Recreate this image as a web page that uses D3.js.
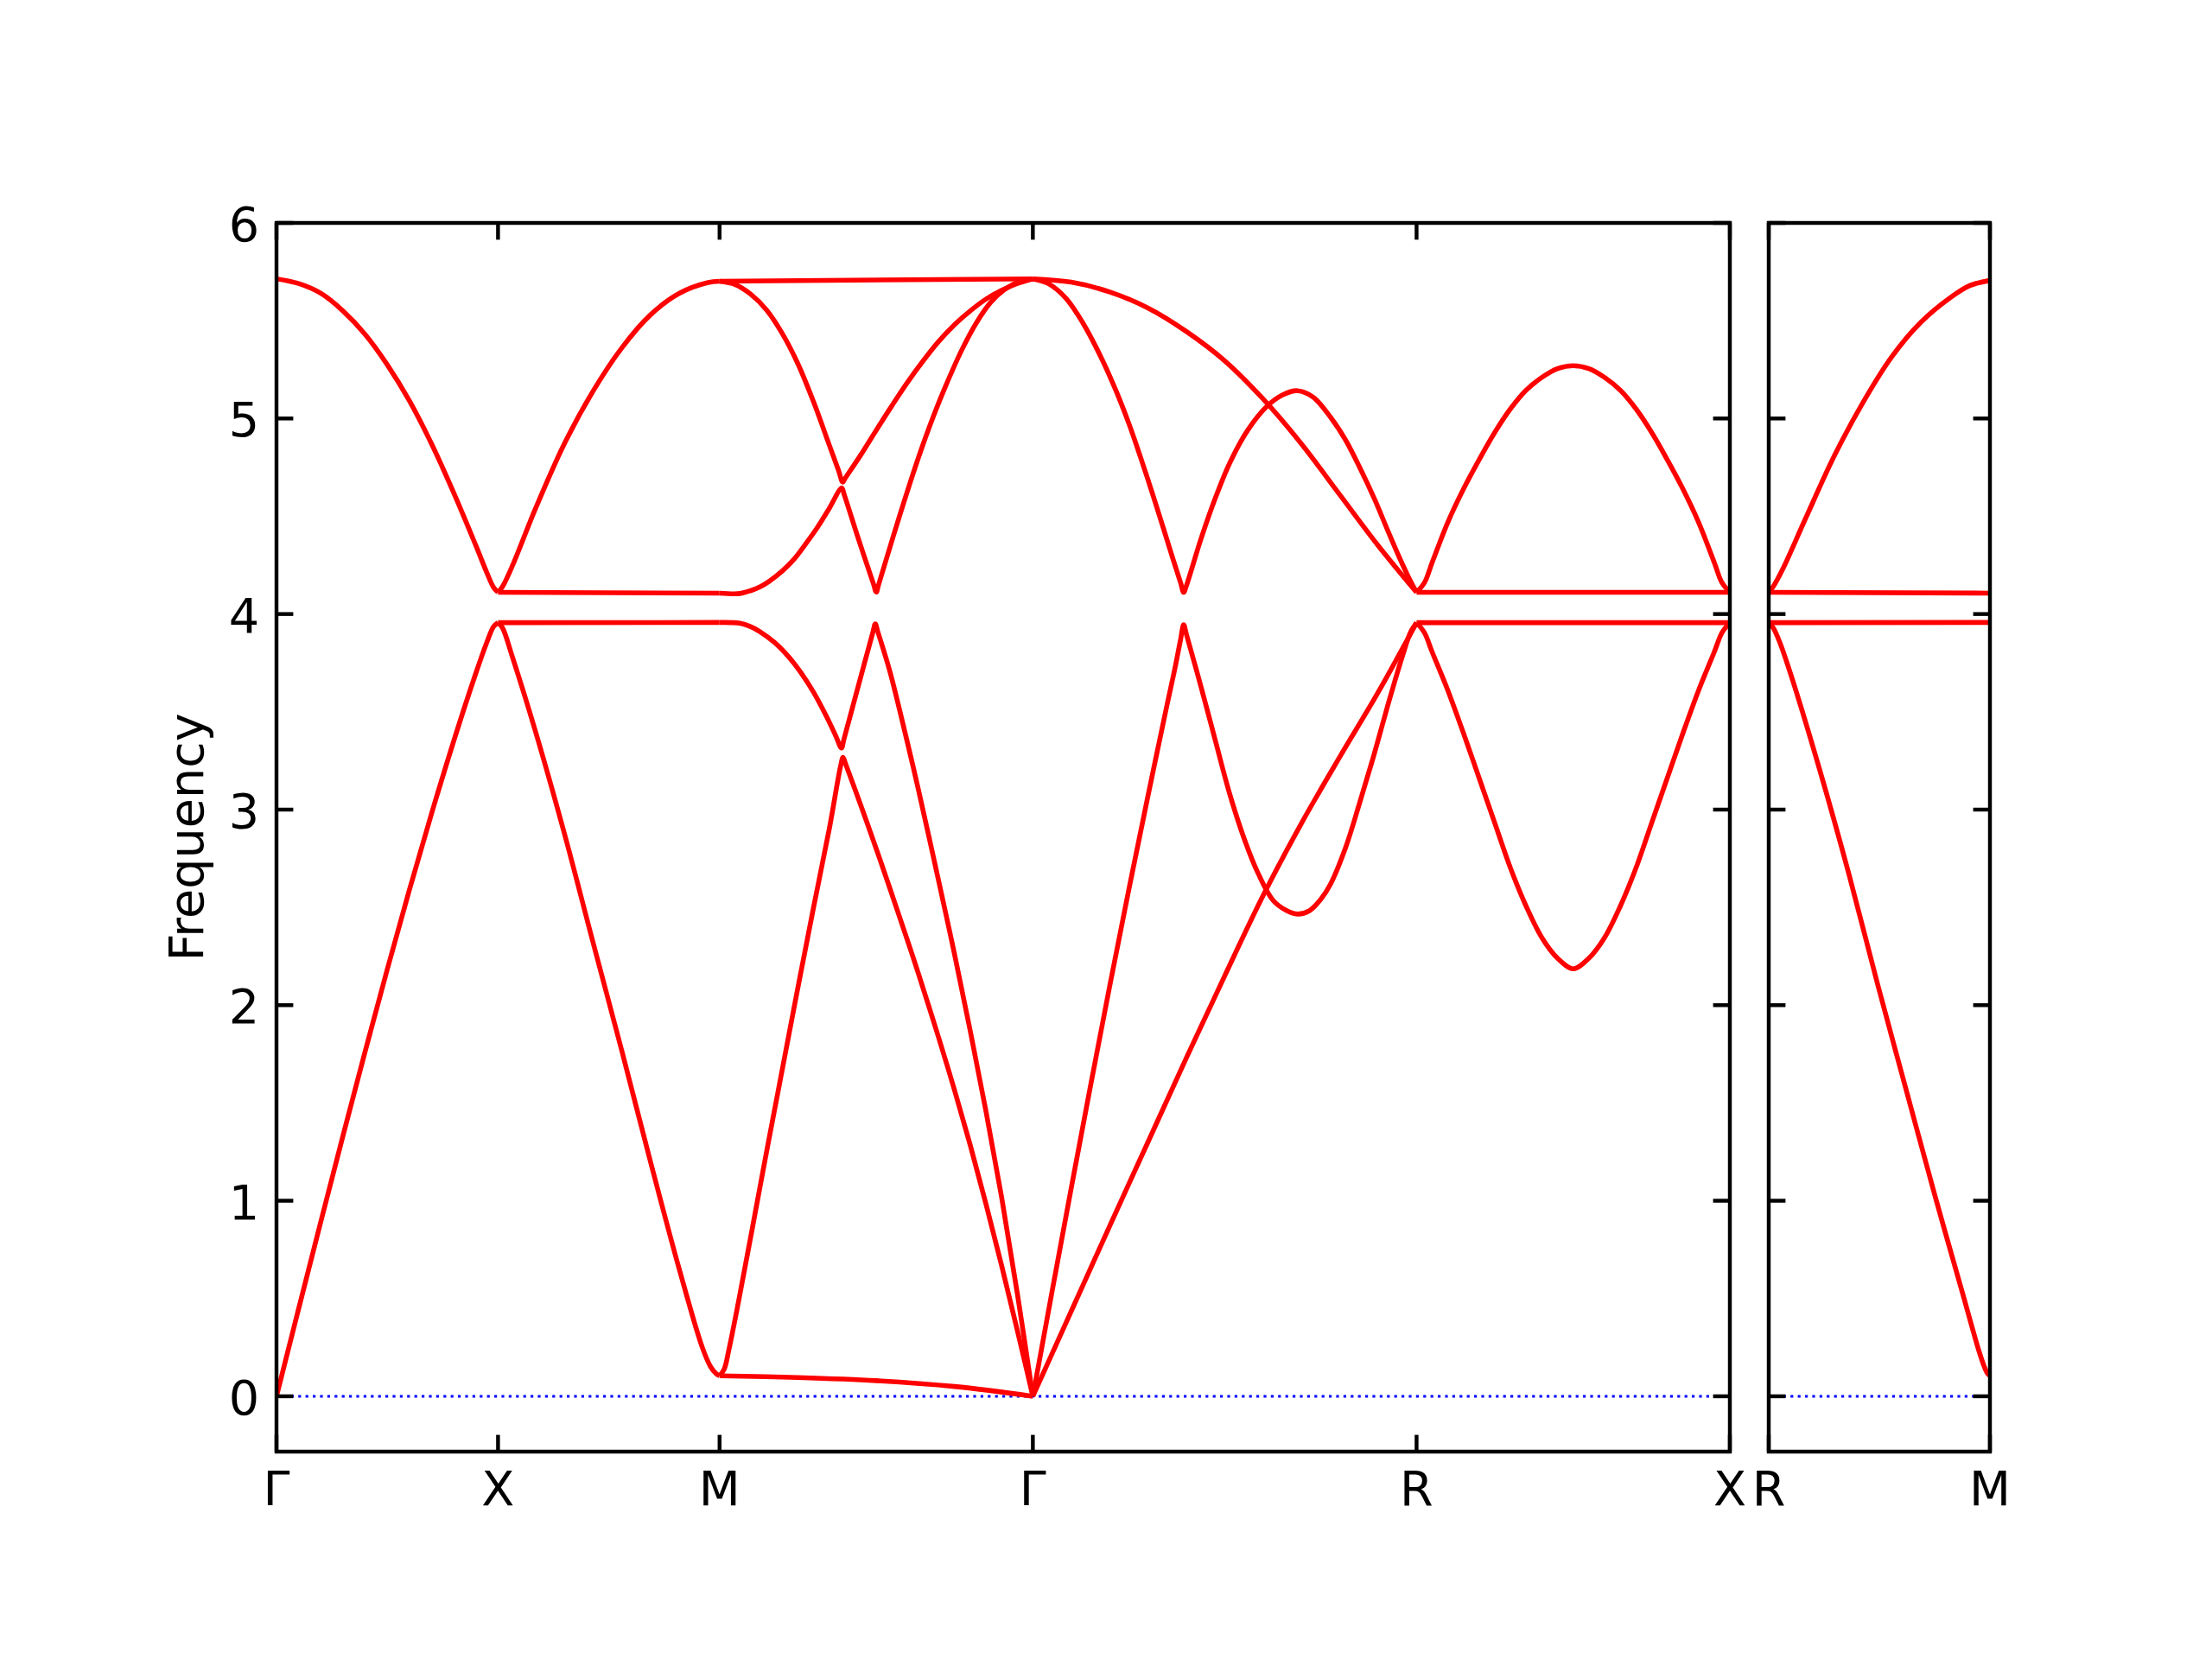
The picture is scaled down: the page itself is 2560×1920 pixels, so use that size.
<!DOCTYPE html>
<html><head><meta charset="utf-8">
<script src="https://cdn.jsdelivr.net/npm/d3@7"></script>
<style>body{margin:0;background:#fff} svg{display:block}</style>
</head><body>
<svg id="chart" width="2560" height="1920"></svg>
<script>
// ---------------- data ----------------
// k-path segment lengths (reciprocal-lattice units) and symmetry labels
const segLengths   = [0.5, 0.5, 0.7071, 0.8660, 0.7071];
const pointLabels  = ["Γ", "X", "M", "Γ", "R", "X"];
const panel2Lengths = [0.5];
const panel2Labels  = ["R", "M"];
const yTicks  = [0, 1, 2, 3, 4, 5, 6];
const yDomain = [-0.283, 6];

// Each band: [fraction along segment, frequency]
// Γ - X
const gxOptical  = [[0,5.714],[0.1,5.69],[0.2,5.64],[0.3,5.55],[0.4,5.43],[0.5,5.275],[0.6,5.09],[0.7,4.87],[0.8,4.62],[0.9,4.35],[0.95,4.21],[0.98,4.136],[1,4.111]];
const gxAcoustic = [[0,0],[0.1,0.448],[0.2,0.893],[0.3,1.332],[0.4,1.763],[0.5,2.183],[0.6,2.59],[0.7,2.98],[0.8,3.351],[0.9,3.698],[0.95,3.857],[0.98,3.936],[1,3.956]];
// X - M
const xmUp     = [[0,4.111],[0.02,4.14],[0.065,4.247],[0.169,4.539],[0.299,4.87],[0.429,5.14],[0.558,5.36],[0.688,5.53],[0.818,5.64],[0.948,5.695],[1,5.702]];
const xmFlatHi = [[0,4.111],[1,4.107]];
const xmFlatLo = [[0,3.956],[1,3.957]];
const xmDown   = [[0,3.956],[0.02,3.93],[0.065,3.78],[0.169,3.40],[0.299,2.88],[0.429,2.32],[0.558,1.77],[0.688,1.20],[0.818,0.65],[0.922,0.25],[0.96,0.15],[0.985,0.115],[1,0.105]];
// M - Γ
const mgTop  = [[0,5.702],[1,5.714]];
const mgU    = [[0,5.702],[0.05,5.685],[0.1,5.635],[0.15,5.555],[0.2,5.435],[0.25,5.28],[0.3,5.085],[0.35,4.865],[0.38,4.733],[0.393,4.675],[0.40,4.692],[0.42,4.74],[0.45,4.812],[0.5,4.94],[0.55,5.065],[0.6,5.185],[0.65,5.295],[0.7,5.395],[0.75,5.48],[0.8,5.55],[0.85,5.61],[0.9,5.655],[0.95,5.69],[1,5.714]];
const mgLam  = [[0,4.107],[0.065,4.105],[0.1,4.12],[0.13,4.14],[0.157,4.166],[0.2,4.22],[0.239,4.283],[0.28,4.37],[0.313,4.445],[0.35,4.54],[0.39,4.644],[0.398,4.61],[0.442,4.39],[0.492,4.15],[0.50,4.112],[0.508,4.152],[0.552,4.385],[0.585,4.555],[0.617,4.715],[0.65,4.87],[0.681,5.005],[0.72,5.16],[0.773,5.35],[0.82,5.49],[0.866,5.595],[0.91,5.66],[0.957,5.70],[1,5.714]];
const mgV    = [[0,3.957],[0.065,3.953],[0.1,3.935],[0.129,3.91],[0.175,3.855],[0.221,3.78],[0.26,3.70],[0.3,3.60],[0.34,3.48],[0.37,3.38],[0.389,3.315],[0.397,3.36],[0.45,3.675],[0.489,3.905],[0.497,3.95],[0.505,3.91],[0.543,3.71],[0.6,3.34],[0.635,3.10],[0.7,2.63],[0.75,2.26],[0.8,1.87],[0.85,1.46],[0.9,1.02],[0.95,0.53],[1,0]];
const mgAc   = [[0,0.105],[0.015,0.14],[0.03,0.24],[0.06,0.48],[0.1,0.82],[0.15,1.25],[0.2,1.67],[0.25,2.09],[0.3,2.50],[0.35,2.90],[0.386,3.22],[0.394,3.267],[0.402,3.235],[0.45,3.025],[0.5,2.80],[0.543,2.60],[0.6,2.33],[0.635,2.16],[0.7,1.83],[0.75,1.565],[0.8,1.285],[0.85,0.985],[0.9,0.67],[0.95,0.34],[1,0]];
const mgLow  = [[0,0.105],[0.25,0.096],[0.5,0.08],[0.75,0.05],[1,0]];
// Γ - R
const grTop  = [[0,5.714],[0.1,5.697],[0.2,5.647],[0.3,5.565],[0.4,5.445],[0.5,5.295],[0.6,5.10],[0.7,4.87],[0.8,4.61],[0.9,4.35],[1,4.111]];
const grHump = [[0,5.714],[0.04,5.69],[0.086,5.615],[0.13,5.49],[0.176,5.32],[0.215,5.15],[0.251,4.97],[0.28,4.805],[0.311,4.62],[0.34,4.44],[0.363,4.295],[0.385,4.16],[0.393,4.111],[0.401,4.15],[0.438,4.383],[0.475,4.59],[0.513,4.772],[0.56,4.94],[0.611,5.064],[0.65,5.12],[0.69,5.142],[0.73,5.11],[0.776,5.006],[0.815,4.89],[0.851,4.753],[0.89,4.59],[0.926,4.422],[0.955,4.29],[0.979,4.189],[1,4.111]];
const grAcV  = [[0,0],[0.05,0.535],[0.1,1.065],[0.15,1.585],[0.2,2.095],[0.25,2.59],[0.3,3.07],[0.348,3.52],[0.37,3.72],[0.385,3.87],[0.393,3.945],[0.401,3.89],[0.438,3.63],[0.476,3.35],[0.513,3.08],[0.551,2.85],[0.588,2.67],[0.626,2.536],[0.66,2.485],[0.69,2.466],[0.72,2.482],[0.75,2.54],[0.776,2.62],[0.814,2.80],[0.851,3.03],[0.889,3.28],[0.926,3.54],[0.964,3.79],[0.985,3.91],[1,3.956]];
const grLin  = [[0,0],[0.1,0.435],[0.2,0.87],[0.3,1.30],[0.4,1.73],[0.5,2.15],[0.6,2.56],[0.7,2.93],[0.8,3.27],[0.9,3.6],[1,3.956]];
// R - X
const rxHump   = [[0,4.111],[0.025,4.16],[0.05,4.265],[0.1,4.47],[0.15,4.64],[0.2,4.79],[0.25,4.93],[0.3,5.05],[0.35,5.145],[0.4,5.21],[0.45,5.255],[0.5,5.27],[0.55,5.255],[0.6,5.21],[0.65,5.145],[0.7,5.05],[0.75,4.93],[0.8,4.79],[0.85,4.64],[0.9,4.47],[0.95,4.265],[0.975,4.16],[1,4.111]];
const rxFlatHi = [[0,4.111],[1,4.111]];
const rxFlatLo = [[0,3.956],[1,3.956]];
const rxDip    = [[0,3.956],[0.025,3.905],[0.05,3.805],[0.1,3.609],[0.15,3.39],[0.2,3.16],[0.25,2.93],[0.3,2.70],[0.35,2.505],[0.4,2.345],[0.45,2.24],[0.5,2.186],[0.55,2.24],[0.6,2.345],[0.65,2.505],[0.7,2.70],[0.75,2.93],[0.8,3.16],[0.85,3.39],[0.9,3.609],[0.95,3.805],[0.975,3.905],[1,3.956]];
// R - M (second panel)
const rmUp     = [[0,4.111],[0.02,4.14],[0.0625,4.228],[0.167,4.49],[0.297,4.81],[0.427,5.084],[0.557,5.317],[0.6875,5.492],[0.818,5.616],[0.91,5.68],[1,5.706]];
const rmFlatHi = [[0,4.111],[1,4.107]];
const rmFlatLo = [[0,3.956],[1,3.957]];
const rmDown   = [[0,3.956],[0.02,3.93],[0.049,3.858],[0.102,3.683],[0.232,3.197],[0.362,2.672],[0.492,2.108],[0.622,1.564],[0.753,1.019],[0.883,0.50],[0.92,0.35],[0.948,0.24],[0.975,0.15],[0.99,0.115],[1,0.105]];

const panel1Bands = [
  [gxOptical, gxAcoustic],
  [xmUp, xmFlatHi, xmFlatLo, xmDown],
  [mgTop, mgU, mgLam, mgV, mgAc, mgLow],
  [grTop, grHump, grAcV, grLin],
  [rxHump, rxFlatHi, rxFlatLo, rxDip]
];
const panel2Bands = [
  [rmUp, rmFlatHi, rmFlatLo, rmDown]
];

// ---------------- layout ----------------
const svg = d3.select("#chart");
const plotTop = 258, plotBottom = 1680;
const AX_W = 4.44, TICK_L = 19.4, FONT = 55.6, LINE_W = 5.6;
const y = d3.scaleLinear().domain(yDomain).range([plotBottom, plotTop]);

const panels = [
  {x0: 320,  x1: 2002, lengths: segLengths,    labels: pointLabels,  bands: panel1Bands, yLabels: true},
  {x0: 2047, x1: 2303, lengths: panel2Lengths, labels: panel2Labels, bands: panel2Bands, yLabels: false}
];

const defs = svg.append("defs");

panels.forEach((p, pi) => {
  const starts = [0];
  p.lengths.forEach(l => starts.push(starts[starts.length - 1] + l));
  const total = starts[starts.length - 1];
  const x = d3.scaleLinear().domain([0, total]).range([p.x0, p.x1]);

  defs.append("clipPath").attr("id", "clip" + pi)
    .append("rect").attr("x", p.x0).attr("y", plotTop)
    .attr("width", p.x1 - p.x0).attr("height", plotBottom - plotTop);

  const g = svg.append("g").attr("clip-path", `url(#clip${pi})`);

  // zero line
  g.append("line")
    .attr("x1", p.x0).attr("x2", p.x1)
    .attr("y1", y(0)).attr("y2", y(0))
    .attr("stroke", "#0000ff").attr("stroke-width", 3)
    .attr("stroke-dasharray", "3.2,5.2");

  // bands
  p.bands.forEach((segBands, si) => {
    const s0 = starts[si], len = p.lengths[si];
    const line = d3.line()
      .x(d => x(s0 + d[0] * len))
      .y(d => y(d[1]))
      .curve(d3.curveCatmullRom.alpha(0.5));
    segBands.forEach(b => {
      g.append("path").attr("d", line(b))
        .attr("fill", "none").attr("stroke", "#ff0000")
        .attr("stroke-width", LINE_W).attr("stroke-linejoin", "round");
    });
  });

  // ticks: y on both sides
  const tg = svg.append("g").attr("stroke", "#000").attr("stroke-width", AX_W);
  yTicks.forEach(t => {
    tg.append("line").attr("x1", p.x0).attr("x2", p.x0 + TICK_L).attr("y1", y(t)).attr("y2", y(t));
    tg.append("line").attr("x1", p.x1).attr("x2", p.x1 - TICK_L).attr("y1", y(t)).attr("y2", y(t));
  });
  // x ticks at symmetry points (top and bottom, inward)
  starts.forEach(s => {
    tg.append("line").attr("x1", x(s)).attr("x2", x(s)).attr("y1", plotBottom).attr("y2", plotBottom - TICK_L);
    tg.append("line").attr("x1", x(s)).attr("x2", x(s)).attr("y1", plotTop).attr("y2", plotTop + TICK_L);
  });

  // frame
  svg.append("rect").attr("x", p.x0).attr("y", plotTop)
    .attr("width", p.x1 - p.x0).attr("height", plotBottom - plotTop)
    .attr("fill", "none").attr("stroke", "#000").attr("stroke-width", AX_W);

  // x tick labels
  starts.forEach((s, i) => {
    svg.append("text").attr("x", x(s)).attr("y", 1742)
      .attr("text-anchor", "middle")
      .attr("font-family", "DejaVu Sans").attr("font-size", FONT)
      .text(p.labels[i]);
  });

  // y tick labels
  if (p.yLabels) {
    yTicks.forEach(t => {
      svg.append("text").attr("x", 300).attr("y", y(t) + 21)
        .attr("text-anchor", "end")
        .attr("font-family", "DejaVu Sans").attr("font-size", FONT)
        .text(t);
    });
  }
});

// y axis label
svg.append("text")
  .attr("transform", `translate(235,${(plotTop + plotBottom) / 2}) rotate(-90)`)
  .attr("text-anchor", "middle")
  .attr("font-family", "DejaVu Sans").attr("font-size", FONT)
  .text("Frequency");
</script>
</body></html>
